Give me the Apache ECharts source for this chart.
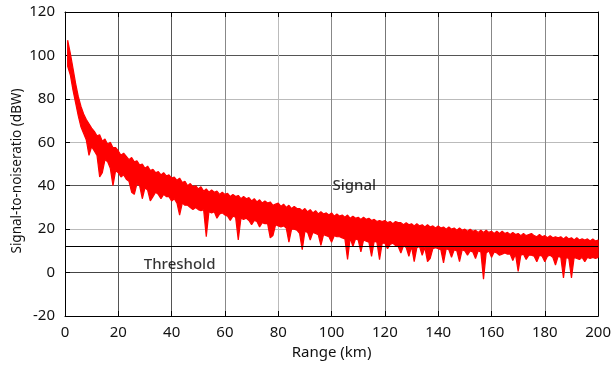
<!DOCTYPE html>
<html>
<head>
<meta charset="utf-8">
<script src="https://cdn.jsdelivr.net/npm/echarts@6/dist/echarts.min.js"></script>
<style>html,body{margin:0;padding:0;background:#fff;}#chart{width:614px;height:370px;}</style>
</head>
<body>
<div id="chart"></div>
<script>
// Range samples (km)
const rangeKm = [1,2,3,4,5,6,7,8,9,10,11,12,13,14,15,16,17,18,19,20,21,22,23,24,25,26,27,28,29,30,31,32,33,34,35,36,37,38,39,40,41,42,43,44,45,46,47,48,49,50,51,52,53,54,55,56,57,58,59,60,61,62,63,64,65,66,67,68,69,70,71,72,73,74,75,76,77,78,79,80,81,82,83,84,85,86,87,88,89,90,91,92,93,94,95,96,97,98,99,100,101,102,103,104,105,106,107,108,109,110,111,112,113,114,115,116,117,118,119,120,121,122,123,124,125,126,127,128,129,130,131,132,133,134,135,136,137,138,139,140,141,142,143,144,145,146,147,148,149,150,151,152,153,154,155,156,157,158,159,160,161,162,163,164,165,166,167,168,169,170,171,172,173,174,175,176,177,178,179,180,181,182,183,184,185,186,187,188,189,190,191,192,193,194,195,196,197,198,199,200];
// Upper envelope of the signal within each 1-km sample (dBW)
const signalHigh = [107,101,94,87,81,76.5,73,70.5,68.5,66.5,
65,63,63.5,60.5,61.5,59,60,57.5,57.5,56,
54,55,53.5,52,53,51,51.5,49.5,50,48,
49,47,47.5,46,46.5,45,46,44.5,45,43.5,
44,42.5,43.5,41.5,42,40,41,39.5,40,38.5,
39.5,37.5,38.5,37,38,37,37.5,36,37,36,
36.5,35,36,35,35.5,34,35,34,34.5,33,
34,32.5,33.5,32,33,32,32.5,31,31.5,32,
30.5,31.5,30,31,29.5,30.5,29.5,29.5,28.5,29.5,
28,29,27.5,28.5,27,28,27,27.5,26.5,27.5,
26,27,26,26.5,25.5,26.5,25,26,25,25.5,
24.5,25.5,24.5,25,24,24.5,23.5,24,23.5,24,
23,23.5,22.5,23.5,23,23,22,23,22,22.5,
21.5,22.5,21.5,22,21,22,21,21.5,20.5,21.5,
20.5,21,20,21,20,20.5,19.5,20.5,19.5,20,
19,20,19,19.5,18.5,19.5,18.5,19.5,18.5,19,
18,19,18,19,18,18.5,17.5,18.5,17.5,18,
17,18,17,17.5,18,17,16.5,17.5,16.5,17,
16,17,16,16.5,16,16.5,15.5,16.5,15.5,16,
15,16,15,15.5,15,15.5,14.5,15.5,14.5,15];
// Lower envelope (including deep fades) within each 1-km sample (dBW)
const signalLow = [95,91,84,78,72,67,64,61,54,58,
56,54,44,46,52,51,48,40,47,46,
44,45,43,42,37,36,41,40,34,39,
38,33,35,37,36,34,36,35,35,33,
34,32,26.5,32,31,31,30,29,30,29,
28.5,29,16.5,28,27.5,28,25,27,27.5,26.5,
26,24,26,25.5,15,25,24.5,25,24,22,
24,23.5,21,23,22.5,22.5,16,17,22,21.5,
21,21.5,20.5,14,20,20,19.5,18,10.5,19,
18.5,15,18.5,18,17.5,12.5,17.5,17,16.5,14,
17,16.5,16.5,16,15.5,6,16,12,15.5,15,
9.5,15,14.5,14,7.5,14.5,14,6,13.5,13.5,
11,13,13.5,12.5,12,9,12.5,11.5,7.5,12,
5,11.5,12,8,11.5,5,6.5,11,11.5,11,
10.5,4.5,11,10.5,7,10.5,10,5,10.5,10,
8,10,9.5,6.5,10,9.5,-3,9,10,7,
9.5,9,8,8.5,9,8.5,8.5,5.5,8.5,0.5,
8,8.5,6,8,8,7.5,5,8,7.5,5,
7.5,8,7,3.5,7.5,7,-2.5,7,6.5,-2.5,
7,6.5,6,7,5,7,6.5,7,6.5,7];
const thresholdLevel = 12;
const thresholdRange = [0, 200];
const xTicks = {min: 0, max: 200, interval: 20};
const yTicks = {min: -20, max: 120, interval: 20};
const signalLabel = {text: 'Signal', x: 108.5, y: 40};
const thresholdLabel = {text: 'Threshold', x: 43, y: 3.5};
const yTitle = 'Signal-to-noiseratio (dBW)';
const xTitle = 'Range (km)';

const FONT = 'Noto Sans';
const bandData = rangeKm.map((x, i) => [x, signalHigh[i], signalLow[i]]);

const chart = echarts.init(document.getElementById('chart'), null, {renderer: 'canvas'});
const baseAxis = {
  axisLine: {show: true, onZero: false, lineStyle: {color: '#000', width: 1}},
  axisTick: {show: true, inside: true, length: 5, lineStyle: {color: '#000'}},
};
chart.setOption({
  animation: false,
  backgroundColor: '#fff',
  grid: {left: 65, right: 13, top: 12, bottom: 54, containLabel: false},
  graphic: [{
    type: 'text', x: 17, y: 171, rotation: Math.PI / 2,
    style: {text: yTitle, fontFamily: FONT, fontSize: 13.5, fill: '#111', align: 'center', verticalAlign: 'middle'}
  }],
  xAxis: [
    Object.assign({}, baseAxis, {
      type: 'value', position: 'bottom', min: xTicks.min, max: xTicks.max, interval: xTicks.interval,
      name: xTitle, nameLocation: 'middle', nameGap: 27,
      nameTextStyle: {fontFamily: FONT, fontSize: 15, color: '#111'},
      axisLabel: {fontFamily: FONT, fontSize: 15, color: '#111', margin: 9},
      splitLine: {show: true, lineStyle: {width: 1, color: ['#000','#555','#555','#888','#bbb','#888','#777','#777','#888','#888','#000']}}
    }),
    Object.assign({}, baseAxis, {
      type: 'value', position: 'top', min: xTicks.min, max: xTicks.max, interval: xTicks.interval,
      axisLabel: {show: false}, splitLine: {show: false}
    })
  ],
  yAxis: [
    Object.assign({}, baseAxis, {
      type: 'value', position: 'left', min: yTicks.min, max: yTicks.max, interval: yTicks.interval,
      axisLabel: {fontFamily: FONT, fontSize: 15, color: '#111', margin: 10},
      splitLine: {show: true, lineStyle: {width: 1, color: ['#000','#444','#bbb','#555','#bbb','#bbb','#555','#000']}}
    }),
    Object.assign({}, baseAxis, {
      type: 'value', position: 'right', min: yTicks.min, max: yTicks.max, interval: yTicks.interval,
      axisLabel: {show: false}, splitLine: {show: false}
    })
  ],
  series: [
    {
      type: 'custom',
      name: 'Signal',
      clip: true,
      data: bandData,
      encode: {x: 0, y: [1, 2]},
      renderItem: function (params, api) {
        if (params.dataIndex !== 0) return null;
        const top = [], bottom = [];
        for (let i = 0; i < bandData.length; i++) {
          top.push(api.coord([bandData[i][0], bandData[i][1]]));
          bottom.push(api.coord([bandData[i][0], bandData[i][2]]));
        }
        const points = top.concat(bottom.reverse());
        return {
          type: 'polygon',
          shape: {points: points},
          style: {fill: '#ff0000', stroke: '#ff0000', lineWidth: 1.2, lineJoin: 'bevel'}
        };
      },
      z: 2
    },
    {
      type: 'line',
      name: 'Threshold',
      data: [[thresholdRange[0], thresholdLevel], [thresholdRange[1], thresholdLevel]],
      symbol: 'none',
      lineStyle: {color: '#000', width: 1},
      z: 3
    },
    {
      type: 'scatter',
      symbolSize: 0,
      data: [
        {value: [signalLabel.x, signalLabel.y], name: signalLabel.text},
        {value: [thresholdLabel.x, thresholdLabel.y], name: thresholdLabel.text}
      ],
      label: {show: true, position: 'inside', formatter: '{b}', fontFamily: FONT, fontSize: 15, fontWeight: 500, color: '#000'},
      z: 4
    }
  ]
});
</script>
</body>
</html>
